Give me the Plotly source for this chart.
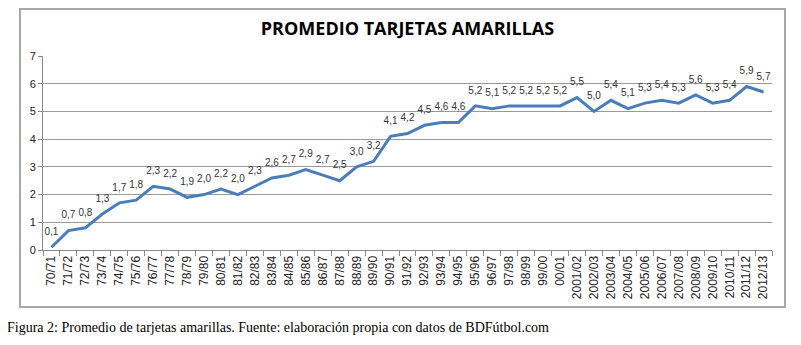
import plotly.graph_objects as go

temporadas = ["70/71", "71/72", "72/73", "73/74", "74/75", "75/76", "76/77", "77/78", "78/79", "79/80",
              "80/81", "81/82", "82/83", "83/84", "84/85", "85/86", "86/87", "87/88", "88/89", "89/90",
              "90/91", "91/92", "92/93", "93/94", "94/95", "95/96", "96/97", "97/98", "98/99", "99/00",
              "00/01", "2001/02", "2002/03", "2003/04", "2004/05", "2005/06", "2006/07", "2007/08",
              "2008/09", "2009/10", "2010/11", "2011/12", "2012/13"]
promedio = [0.1, 0.7, 0.8, 1.3, 1.7, 1.8, 2.3, 2.2, 1.9, 2.0,
            2.2, 2.0, 2.3, 2.6, 2.7, 2.9, 2.7, 2.5, 3.0, 3.2,
            4.1, 4.2, 4.5, 4.6, 4.6, 5.2, 5.1, 5.2, 5.2, 5.2,
            5.2, 5.5, 5.0, 5.4, 5.1, 5.3, 5.4, 5.3, 5.6, 5.3, 5.4, 5.9, 5.7]
y_ticks = [0, 1, 2, 3, 4, 5, 6, 7]

etiquetas = [f"{v:.1f}".replace(".", ",") for v in promedio]

# page has an 8px body margin; work in screen pixels and convert
OFF = 8
W, H = 801 - 2 * OFF, 345 - 2 * OFF
PL, PR, PT, PB = 43, 772, 56, 250  # plot area in screen pixels
ML, MR, MT, MB = PL - OFF, 801 - OFF - PR, PT - OFF, 345 - OFF - PB
pw = W - ML - MR
ph = H - MT - MB


def px_x(p):
    return (p - OFF - ML) / pw


def px_y(p):
    return 1 - (p - OFF - MT) / ph


fig = go.Figure()
fig.add_trace(go.Scatter(
    x=temporadas, y=promedio, mode="lines+markers+text",
    line=dict(color="#4A7EBB", width=3),
    marker=dict(size=14, color="rgba(0,0,0,0)", line=dict(width=0)),
    text=etiquetas, textposition="top center",
    textfont=dict(family="Liberation Sans, Arial", size=10, color="#333333"),
    cliponaxis=False, hoverinfo="skip",
))

fig.update_layout(
    width=W, height=H,
    margin=dict(l=ML, r=MR, t=MT, b=MB, autoexpand=False),
    paper_bgcolor="white", plot_bgcolor="white",
    showlegend=False,
    title=dict(text="<b>PROMEDIO TARJETAS AMARILLAS</b>", x=0.5, xref="paper", xanchor="center",
               y=1 - (29 - OFF) / H, yref="container", yanchor="middle",
               font=dict(family="Open Sans, Arial", size=18, color="black")),
    xaxis=dict(type="category", tickangle=-90, showgrid=False, automargin=False,
               showline=True, linecolor="#888888", linewidth=1,
               ticks="outside", tickson="boundaries", ticklen=5, tickcolor="#888888",
               tickfont=dict(family="Liberation Sans, Arial", size=12, color="#222222"),
               range=[-0.5, len(temporadas) - 0.5]),
    yaxis=dict(range=[0, 7], tickvals=y_ticks, showgrid=True, gridcolor="#999999", gridwidth=1,
               showline=True, linecolor="#888888", linewidth=1, automargin=False,
               ticks="outside", ticklen=4, tickcolor="#888888",
               tickfont=dict(family="Liberation Sans, Arial", size=11, color="#222222"),
               zeroline=False),
    shapes=[
        dict(type="rect", xref="paper", yref="paper",
             x0=px_x(20), x1=px_x(785), y0=px_y(307), y1=px_y(9),
             line=dict(color="#A8A8A8", width=2), layer="below"),
    ],
)

fig.add_annotation(
    text="Figura 2: Promedio de tarjetas amarillas. Fuente: elaboración propia con datos de BDFútbol.com",
    xref="paper", yref="paper", x=px_x(5), y=px_y(327), xanchor="left", yanchor="middle",
    showarrow=False, font=dict(family="Liberation Serif, Times New Roman", size=14, color="black"),
)

fig.write_html("out.html")
